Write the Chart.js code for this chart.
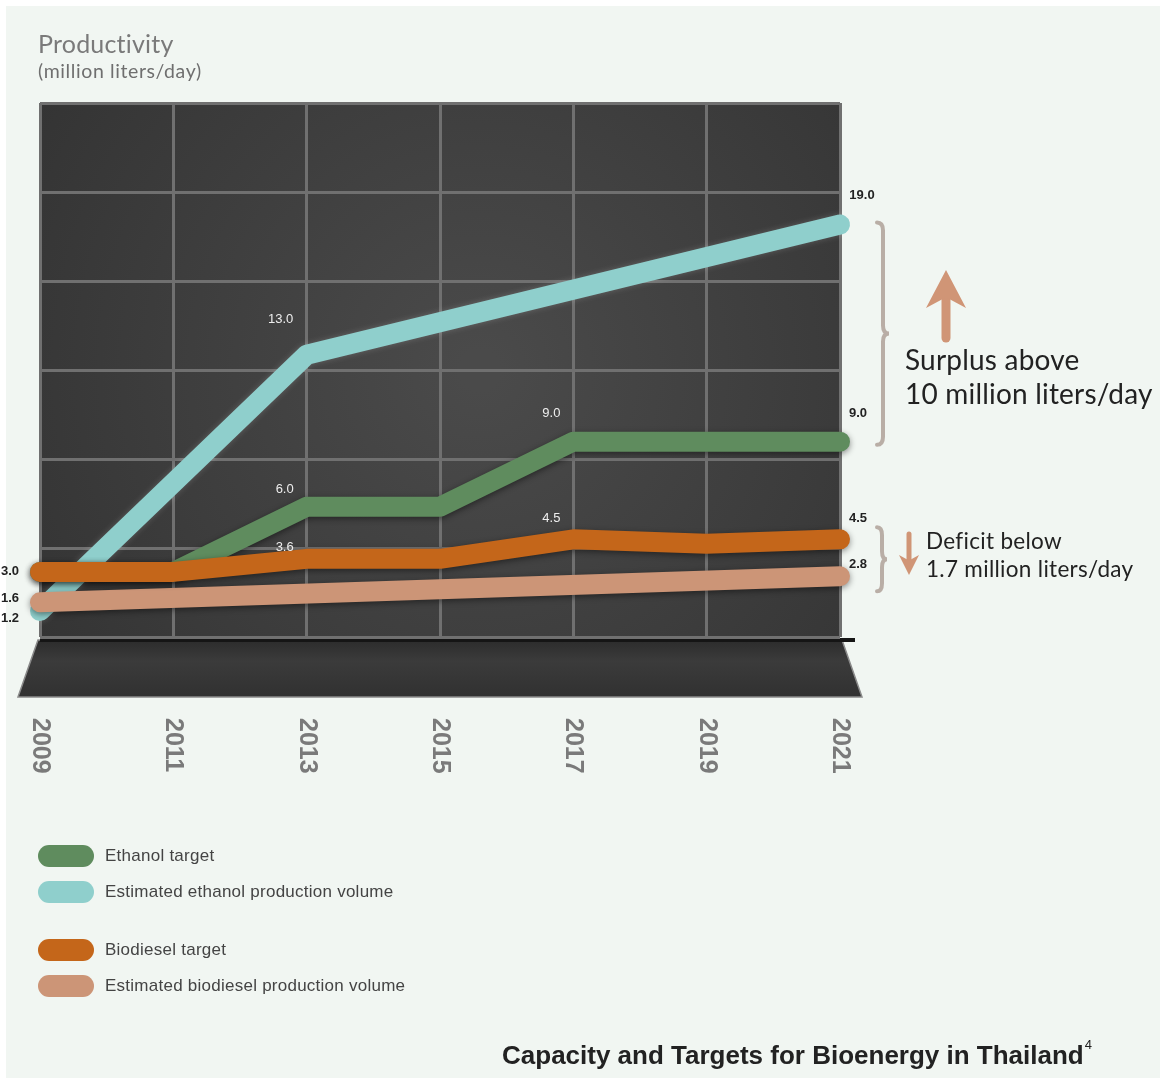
<!DOCTYPE html>
<html>
<head>
<meta charset="utf-8">
<script src="https://cdn.jsdelivr.net/npm/chart.js@4.4.1/dist/chart.umd.min.js"></script>
<style>
  body { margin: 0; background: #fff; }
  #page { position: relative; width: 1166px; height: 1078px; overflow: hidden; }
  #panel { position: absolute; left: 6px; top: 6px; width: 1154px; height: 1072px; background: #f1f6f2; }
  #chart { position: absolute; left: 0; top: 0; }
  .txt { position: absolute; white-space: nowrap; }
  .ytitle { left: 38px; top: 28px; font: 25px Lato, sans-serif; color: #7a7a7a; letter-spacing: 0.2px; }
  .yunit { left: 38px; top: 59px; font: 19.5px Lato, sans-serif; color: #6f6f6f; letter-spacing: 0.6px; }
  .note { font-family: Lato, sans-serif; color: #222; }
  .legend { position: absolute; left: 38px; top: 844px; font: 17px "Liberation Sans", Arial, sans-serif; color: #444; letter-spacing: 0.25px; }
  .legend .item { display: flex; align-items: center; height: 24px; margin-bottom: 12px; }
  .legend .gap { height: 22px; }
  .legend .pill { width: 56px; height: 22px; border-radius: 11px; margin-right: 11px; }
  .title { right: 74px; top: 1040px; font: bold 26px "Liberation Sans", Arial, sans-serif; color: #222; }
  .title sup { font-size: 13px; font-weight: normal; position: relative; top: -5px; margin-left: 1px; }
</style>
</head>
<body>
<div id="page">
  <div id="panel"></div>
  <canvas id="chart" width="1166" height="1078"></canvas>
  <div class="txt ytitle">Productivity</div>
  <div class="txt yunit">(million liters/day)</div>
  <div class="txt note" style="left:905px; top:342px; font-size:28px; line-height:34px; letter-spacing:0.2px;">Surplus above<br>10 million liters/day</div>
  <div class="txt note" style="left:926px; top:527px; font-size:22.5px; line-height:28px; letter-spacing:0.3px;">Deficit below<br>1.7 million liters/day</div>
  <div class="legend" id="legend"></div>
  <div class="txt title">Capacity and Targets for Bioenergy in Thailand<sup>4</sup></div>
</div>
<script>
const years = [2009, 2011, 2013, 2015, 2017, 2019, 2021];
const seriesNames = [
  "Ethanol target",
  "Estimated ethanol production volume",
  "Biodiesel target",
  "Estimated biodiesel production volume"
];
const seriesColors = ["#5f8c5e", "#8fcfcc", "#c4661a", "#cc9577"];

// values in million liters/day
const ethanolTarget = [3.0, 3.0, 6.0, 6.0, 9.0, 9.0, 9.0];
const ethanolEstYears = [2009, 2013, 2021];
const ethanolEst = [1.2, 13.0, 19.0];
const biodieselTarget = [3.0, 3.0, 3.6, 3.6, 4.5, 4.3, 4.5];
const biodieselEstYears = [2009, 2021];
const biodieselEst = [1.6, 2.8];

const toPoints = (xs, ys) => xs.map((x, i) => ({ x: x, y: ys[i] }));

// legend
const legendEl = document.getElementById("legend");
seriesNames.forEach((name, i) => {
  if (i === 2) {
    const gap = document.createElement("div");
    gap.className = "gap";
    legendEl.appendChild(gap);
  }
  const item = document.createElement("div");
  item.className = "item";
  item.innerHTML = `<div class="pill" style="background:${seriesColors[i]}"></div><span>${name}</span>`;
  legendEl.appendChild(item);
});

// value labels: [dataset, point, dx, dy]
const valueLabels = [
  [1, 1, -26, -35],
  [0, 2, -22, -17],
  [2, 2, -22, -11],
  [0, 4, -22, -28],
  [2, 4, -22, -21],
  [1, 2, 22, -29],
  [0, 6, 18, -28],
  [2, 6, 18, -21],
  [3, 1, 18, -12],
  [2, 0, -30, 0],
  [3, 0, -30, -4],
  [1, 0, -30, 7]
];

function drawBrace(ctx, x, y1, y2, w) {
  const mid = (y1 + y2) / 2;
  const r = 8;
  ctx.beginPath();
  ctx.moveTo(x, y1);
  ctx.quadraticCurveTo(x + w / 2, y1, x + w / 2, y1 + r);
  ctx.lineTo(x + w / 2, mid - r);
  ctx.quadraticCurveTo(x + w / 2, mid, x + w, mid);
  ctx.quadraticCurveTo(x + w / 2, mid, x + w / 2, mid + r);
  ctx.lineTo(x + w / 2, y2 - r);
  ctx.quadraticCurveTo(x + w / 2, y2, x, y2);
  ctx.stroke();
}

function drawArrow(ctx, x, tip, tail, headW, headL, shaftW, up) {
  const dir = up ? 1 : -1;
  ctx.lineWidth = shaftW;
  ctx.lineCap = "round";
  ctx.beginPath();
  ctx.moveTo(x, tail);
  ctx.lineTo(x, tip + dir * headL * 0.7);
  ctx.stroke();
  ctx.beginPath();
  ctx.moveTo(x, tip);
  ctx.lineTo(x + headW / 2, tip + dir * headL);
  ctx.lineTo(x, tip + dir * headL * 0.72);
  ctx.lineTo(x - headW / 2, tip + dir * headL);
  ctx.closePath();
  ctx.fill();
}

const decorPlugin = {
  id: "decor",
  beforeDraw(chart) {
    const { ctx, chartArea: a } = chart;
    ctx.save();
    // plot background
    const g = ctx.createRadialGradient(a.left + a.width * 0.55, a.top + a.height * 0.5, 20,
      a.left + a.width * 0.55, a.top + a.height * 0.5, a.width * 0.7);
    g.addColorStop(0, "#4a4a4a");
    g.addColorStop(1, "#323232");
    ctx.fillStyle = g;
    ctx.fillRect(a.left, a.top, a.width, a.height);
    // floor
    const fg = ctx.createLinearGradient(0, a.bottom, 0, a.bottom + 60);
    fg.addColorStop(0, "#2a2a2a");
    fg.addColorStop(0.4, "#3b3b3b");
    fg.addColorStop(1, "#313131");
    ctx.fillStyle = fg;
    ctx.strokeStyle = "#8a8a8a";
    ctx.lineWidth = 1.5;
    ctx.beginPath();
    ctx.moveTo(a.left - 2, a.bottom + 3);
    ctx.lineTo(a.right + 2, a.bottom + 3);
    ctx.lineTo(a.right + 22, a.bottom + 60);
    ctx.lineTo(a.left - 22, a.bottom + 60);
    ctx.closePath();
    ctx.fill();
    ctx.stroke();
    ctx.fillStyle = "#151515";
    ctx.fillRect(a.left, a.bottom + 1, a.width + 15, 4);
    ctx.restore();
  },
  beforeDatasetDraw(chart, args) {
    const ctx = chart.ctx;
    ctx.save();
    // teal line gets a faint light halo, the others a drop shadow
    if (args.index === 1) {
      ctx.shadowColor = "rgba(255,255,255,0.18)";
      ctx.shadowBlur = 6;
    } else {
      ctx.shadowColor = "rgba(0,0,0,0.45)";
      ctx.shadowBlur = 6;
      ctx.shadowOffsetY = 2;
    }
  },
  afterDatasetDraw(chart) {
    chart.ctx.restore();
  },
  afterDraw(chart) {
    const { ctx, chartArea: a, scales } = chart;
    const xs = scales.x, ys = scales.y;
    ctx.save();
    // year labels, rotated clockwise
    ctx.fillStyle = "#7a7a7a";
    ctx.font = "bold 25px 'Liberation Sans', Arial, sans-serif";
    ctx.textBaseline = "middle";
    ctx.textAlign = "left";
    years.forEach(yr => {
      ctx.save();
      ctx.translate(xs.getPixelForValue(yr), 718);
      ctx.rotate(Math.PI / 2);
      ctx.fillText(String(yr), 0, 0);
      ctx.restore();
    });
    // value labels
    ctx.textAlign = "center";
    valueLabels.forEach(([di, pi, dx, dy]) => {
      const pt = chart.getDatasetMeta(di).data[pi];
      const v = chart.data.datasets[di].data[pi].y;
      const x = pt.x + dx, y = pt.y + dy;
      const inside = x > a.left && x < a.right;
      ctx.fillStyle = inside ? "#eeeeee" : "#222222";
      ctx.font = (inside ? "" : "bold ") + "13px 'Liberation Sans', Arial, sans-serif";
      ctx.fillText(v.toFixed(1), x, y);
    });
    // braces
    ctx.strokeStyle = "#b9aea6";
    ctx.lineWidth = 4;
    ctx.lineCap = "round";
    drawBrace(ctx, 877, ys.getPixelForValue(19) - 2, ys.getPixelForValue(9) + 3, 12);
    drawBrace(ctx, 877, ys.getPixelForValue(4.5) - 12, ys.getPixelForValue(2.8) + 15, 10);
    // arrows
    ctx.strokeStyle = "#d09576";
    ctx.fillStyle = "#d09576";
    drawArrow(ctx, 946, 270, 338, 40, 38, 9, true);
    drawArrow(ctx, 909, 575, 534, 20, 20, 5, false);
    ctx.restore();
  }
};

const lineStyle = (color, order) => ({
  borderColor: color,
  backgroundColor: color,
  borderWidth: 20,
  borderCapStyle: "round",
  borderJoinStyle: "round",
  pointRadius: 0,
  tension: 0,
  fill: false,
  clip: false,
  order: order
});

new Chart(document.getElementById("chart"), {
  type: "line",
  data: {
    datasets: [
      { label: seriesNames[0], data: toPoints(years, ethanolTarget), ...lineStyle(seriesColors[0], 2) },
      { label: seriesNames[1], data: toPoints(ethanolEstYears, ethanolEst), ...lineStyle(seriesColors[1], 3) },
      { label: seriesNames[2], data: toPoints(years, biodieselTarget), ...lineStyle(seriesColors[2], 0) },
      { label: seriesNames[3], data: toPoints(biodieselEstYears, biodieselEst), ...lineStyle(seriesColors[3], 1) }
    ]
  },
  options: {
    responsive: false,
    animation: false,
    layout: { padding: { left: 40, top: 103, right: 326, bottom: 441 } },
    plugins: { legend: { display: false }, tooltip: { enabled: false } },
    scales: {
      x: {
        type: "linear",
        min: 2009,
        max: 2021,
        ticks: { display: false, stepSize: 2 },
        grid: { color: "#707070", lineWidth: 3, drawTicks: false },
        border: { display: false }
      },
      y: {
        min: 0,
        max: 24.6,
        afterBuildTicks: scale => {
          scale.ticks = [0, 1, 2, 3, 4, 5, 6].map(i => ({ value: i * 4.1 }));
        },
        ticks: { display: false },
        grid: { color: "#707070", lineWidth: 3, drawTicks: false },
        border: { display: false }
      }
    }
  },
  plugins: [decorPlugin]
});
</script>
</body>
</html>
